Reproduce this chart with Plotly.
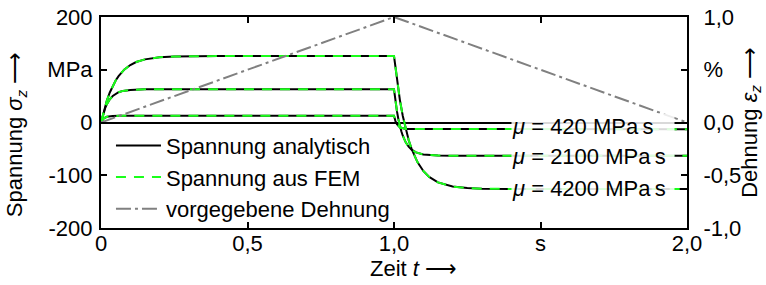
import plotly.graph_objects as go

# ---- data ----
# stress curve mu = 4200 MPa s
t_4200 = [0, 0.01, 0.02, 0.03, 0.04, 0.05, 0.06, 0.08, 0.10, 0.12, 0.15, 0.20, 0.25, 0.30, 0.40, 1.0,
          1.01, 1.02, 1.03, 1.04, 1.05, 1.06, 1.08, 1.10, 1.12, 1.15, 1.20, 1.25, 1.30, 1.40, 2.0]
s_4200 = [0, 22.8, 41.5, 56.9, 69.4, 79.6, 88.0, 100.6, 108.9, 114.6, 119.7, 123.7, 125.2, 125.7, 126.0, 126.0,
          80.3, 42.9, 12.3, -12.8, -33.3, -50.1, -75.1, -91.9, -103.1, -113.5, -121.4, -124.3, -125.4, -125.9, -126.0]

# stress curve mu = 2100 MPa s
t_2100 = [0, 0.005, 0.01, 0.015, 0.02, 0.025, 0.03, 0.04, 0.05, 0.06, 0.075, 0.10, 0.15, 0.20, 1.0,
          1.005, 1.01, 1.015, 1.02, 1.025, 1.03, 1.04, 1.05, 1.06, 1.075, 1.10, 1.15, 1.20, 2.0]
s_2100 = [0, 11.4, 20.8, 28.4, 34.7, 39.8, 44.0, 50.3, 54.5, 57.3, 59.9, 61.8, 62.8, 63.0, 63.0,
          40.2, 21.5, 6.2, -6.4, -16.6, -25.0, -37.6, -45.9, -51.6, -56.7, -60.7, -62.7, -63.0, -63.0]

# stress curve mu = 420 MPa s
t_420 = [0, 0.005, 0.01, 0.02, 0.03, 0.04, 0.06, 1.0,
         1.005, 1.01, 1.02, 1.03, 1.04, 1.06, 2.0]
s_420 = [0, 5.0, 8.0, 10.9, 12.0, 12.4, 12.6, 12.6,
         2.7, -3.3, -9.2, -11.4, -12.1, -12.5, -12.6]

# prescribed strain (%)
t_strain = [0, 1.0, 2.0]
e_strain = [0, 1.0, 0]

# curve labels
mu_labels = ["<i>μ</i> = 420 MPa\u2009s", "<i>μ</i> = 2100 MPa\u2009s", "<i>μ</i> = 4200 MPa\u2009s"]
mu_label_t = [1.40, 1.40, 1.40]
mu_label_s = [-7, -64, -126]

# tick labels
x_tickvals = [0, 0.5, 1.0, 1.5, 2.0]
x_ticktext = ["0", "0,5", "1,0", "s", "2,0"]
y_tickvals = [200, 100, 0, -100, -200]
y_ticktext = ["200", "MPa", "0", "-100", "-200"]
y2_tickvals = [1.0, 0.5, 0, -0.5, -1.0]
y2_ticktext = ["1,0", "%", "0,0", "-0,5", "-1,0"]

FONT = "Liberation Sans, Arial, sans-serif"
FS = 22
BLACK = "#000000"
GREEN = "#1aff1a"
GRAY = "#808080"

fig = go.Figure()

# prescribed strain (right axis)
fig.add_trace(go.Scatter(x=t_strain, y=e_strain, yaxis="y2", mode="lines",
                         line=dict(color=GRAY, width=2, dash="15px,4px,3px,4px"),
                         name="vorgegebene Dehnung", legendrank=3))

curves = [(t_4200, s_4200), (t_2100, s_2100), (t_420, s_420)]
for i, (tt, ss) in enumerate(curves):
    fig.add_trace(go.Scatter(x=tt, y=ss, mode="lines",
                             line=dict(color=BLACK, width=2),
                             name="Spannung analytisch", legendgroup="ana",
                             showlegend=(i == 0), legendrank=1))
for i, (tt, ss) in enumerate(curves):
    fig.add_trace(go.Scatter(x=tt, y=ss, mode="lines",
                             line=dict(color=GREEN, width=2, dash="10px,8px"),
                             name="Spannung aus FEM", legendgroup="fem",
                             showlegend=(i == 0), legendrank=2))

for txt, tx, sy in zip(mu_labels, mu_label_t, mu_label_s):
    fig.add_annotation(x=tx, y=sy, xref="x", yref="y", text=txt, showarrow=False,
                       xanchor="left", yanchor="middle", align="left", width=162,
                       bgcolor="rgba(255,255,255,0.85)", borderpad=0,
                       font=dict(family=FONT, size=FS, color=BLACK))

# axis titles
fig.add_annotation(x=-0.145, y=0.445, xref="paper", yref="paper",
                   text="Spannung <i>σ</i><sub><i>z</i></sub> ⟶", textangle=-90,
                   showarrow=False, xanchor="center", yanchor="middle",
                   font=dict(family=FONT, size=FS, color=BLACK))
fig.add_annotation(x=1.108, y=0.50, xref="paper", yref="paper",
                   text="Dehnung <i>ε</i><sub><i>z</i></sub> ⟶", textangle=-90,
                   showarrow=False, xanchor="center", yanchor="middle",
                   font=dict(family=FONT, size=FS, color=BLACK))
fig.add_annotation(x=0.456, y=-0.19, xref="paper", yref="paper",
                   text="Zeit <i>t</i> ⟶", showarrow=False,
                   xanchor="left", yanchor="middle",
                   font=dict(family=FONT, size=FS, color=BLACK))

axis_common = dict(showgrid=False, showline=True, linecolor=BLACK, linewidth=2,
                   ticks="inside", ticklen=6, tickwidth=2, tickcolor=BLACK,
                   tickfont=dict(family=FONT, size=FS, color=BLACK), automargin=False)

fig.update_layout(
    width=766, height=285, autosize=False,
    margin=dict(l=101, r=79, t=17, b=57, pad=0, autoexpand=False),
    paper_bgcolor="white", plot_bgcolor="white",
    font=dict(family=FONT, size=FS, color=BLACK),
    xaxis=dict(range=[0, 2], tickmode="array", tickvals=x_tickvals, ticktext=x_ticktext,
               mirror="ticks", zeroline=False, ticklabelstandoff=-5, **axis_common),
    yaxis=dict(range=[-200, 200], tickmode="array", tickvals=y_tickvals, ticktext=y_ticktext,
               mirror=True, zeroline=True, zerolinecolor=BLACK, zerolinewidth=2,
               ticklabelstandoff=2, **axis_common),
    yaxis2=dict(range=[-1, 1], tickmode="array", tickvals=y2_tickvals, ticktext=y2_ticktext,
                overlaying="y", side="right", zeroline=False, ticklabelstandoff=10,
                **axis_common),
    legend=dict(x=0.017, y=-0.008, xanchor="left", yanchor="bottom", itemwidth=45,
                bgcolor="rgba(0,0,0,0)", font=dict(family=FONT, size=FS, color=BLACK),
                traceorder="normal", tracegroupgap=0),
    showlegend=True,
)

fig.write_html("out.html", config={"displayModeBar": False},
               post_script="document.body.style.margin='0px';")
